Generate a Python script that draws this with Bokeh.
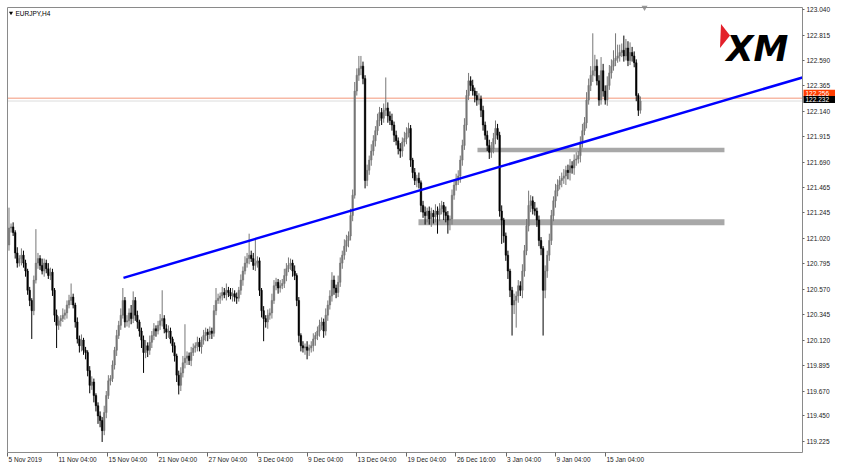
from bokeh.plotting import figure
from bokeh.models import (ColumnDataSource, FixedTicker, NumeralTickFormatter, Range1d,
                          Label, LinearAxis, CustomJSTickFormatter)
from bokeh.embed import file_html
from bokeh.resources import INLINE

# ---------------- data ----------------
symbol_title = "EURJPY,H4"
first_open = 120.96

closes = [
    121.11, 121.12, 121.07, 120.89, 120.80, 120.84, 120.87, 120.80, 120.73, 120.56,
    120.47, 120.38, 120.65, 120.80, 120.84, 120.78, 120.73, 120.80, 120.75, 120.69,
    120.72, 120.56, 120.34, 120.25, 120.29, 120.31, 120.34, 120.36, 120.43, 120.47,
    120.50, 120.43, 120.28, 120.13, 120.07, 120.12, 120.03, 120.01, 119.85, 119.72,
    119.75, 119.63, 119.54, 119.45, 119.41, 119.32, 119.48, 119.63, 119.76, 119.78,
    119.90, 120.03, 120.16, 120.25, 120.34, 120.47, 120.28, 120.29, 120.36, 120.31,
    120.47, 120.34, 120.28, 120.20, 120.12, 120.01, 120.07, 120.03, 120.10, 120.16,
    120.22, 120.20, 120.25, 120.29, 120.31, 120.22, 120.19, 120.20, 120.13, 120.07,
    119.98, 119.81, 119.72, 119.83, 119.92, 119.96, 119.98, 119.94, 120.01, 120.05,
    120.07, 120.10, 120.06, 120.12, 120.16, 120.19, 120.17, 120.20, 120.18, 120.38,
    120.47, 120.49, 120.51, 120.54, 120.52, 120.56, 120.54, 120.51, 120.53, 120.50,
    120.49, 120.56, 120.65, 120.73, 120.80, 120.84, 120.87, 120.84, 120.78, 120.80,
    120.82, 120.56, 120.38, 120.31, 120.28, 120.34, 120.36, 120.47, 120.60, 120.63,
    120.58, 120.60, 120.62, 120.69, 120.75, 120.78, 120.80, 120.73, 120.69, 120.47,
    120.16, 120.07, 120.05, 120.06, 120.03, 120.05, 120.07, 120.13, 120.16, 120.20,
    120.25, 120.28, 120.20, 120.34, 120.43, 120.51, 120.65, 120.58, 120.54, 120.63,
    120.80, 120.87, 120.95, 121.00, 121.04, 121.22, 121.40, 122.32, 122.46, 122.52,
    122.54, 122.43, 121.53, 121.62, 121.71, 121.79, 121.88, 121.97, 122.06, 122.13,
    122.08, 122.15, 122.17, 122.10, 122.06, 122.02, 121.93, 121.88, 121.81, 121.79,
    121.87, 121.90, 121.95, 121.99, 121.71, 121.60, 121.53, 121.55, 121.51, 121.31,
    121.25, 121.22, 121.26, 121.19, 121.24, 121.21, 121.26, 121.23, 121.28, 121.31,
    121.25, 121.22, 121.18, 121.19, 121.40, 121.49, 121.53, 121.57, 121.71, 121.84,
    122.02, 122.28, 122.41, 122.37, 122.32, 122.28, 122.24, 122.25, 122.15, 122.02,
    121.93, 121.84, 121.78, 121.81, 121.90, 121.99, 121.93, 121.26, 121.18, 121.04,
    120.87, 120.73, 120.56, 120.43, 120.47, 120.51, 120.60, 120.56, 120.73, 120.91,
    121.13, 121.31, 121.35, 121.28, 121.26, 121.18, 121.00, 120.93, 120.56, 120.73,
    120.87, 121.00, 121.22, 121.35, 121.44, 121.49, 121.53, 121.55, 121.57, 121.62,
    121.60, 121.66, 121.64, 121.71, 121.72, 121.75, 121.87, 121.97, 122.04, 122.24,
    122.37, 122.46, 122.50, 122.54, 122.41, 122.24, 122.50, 122.32, 122.24, 122.37,
    122.48, 122.54, 122.59, 122.61, 122.63, 122.66, 122.68, 122.63, 122.70, 122.59,
    122.66, 122.63, 122.57, 122.28, 122.15, 122.232,
]

wick_up = [
    0.18, 0.03, 0.04, 0.02, 0.05, 0.03, 0.06, 0.04, 0.03, 0.02,
    0.03, 0.02, 0.04, 0.30, 0.05, 0.03, 0.06, 0.04, 0.03, 0.05,
    0.04, 0.03, 0.02, 0.05, 0.04, 0.03, 0.06, 0.03, 0.04, 0.05,
    0.12, 0.03, 0.02, 0.04, 0.03, 0.05, 0.02, 0.03, 0.02, 0.04,
    0.05, 0.03, 0.02, 0.03, 0.04, 0.03, 0.06, 0.04, 0.05, 0.03,
    0.04, 0.03, 0.05, 0.04, 0.06, 0.11, 0.03, 0.05, 0.04, 0.07,
    0.08, 0.03, 0.04, 0.02, 0.03, 0.04, 0.05, 0.03, 0.06, 0.04,
    0.05, 0.03, 0.04, 0.06, 0.25, 0.03, 0.04, 0.05, 0.03, 0.02,
    0.03, 0.02, 0.04, 0.05, 0.06, 0.30, 0.04, 0.03, 0.05, 0.04,
    0.03, 0.05, 0.04, 0.03, 0.05, 0.04, 0.03, 0.04, 0.03, 0.05,
    0.11, 0.04, 0.03, 0.05, 0.04, 0.06, 0.03, 0.04, 0.05, 0.03,
    0.04, 0.03, 0.05, 0.04, 0.06, 0.05, 0.19, 0.04, 0.05, 0.22,
    0.04, 0.03, 0.02, 0.04, 0.03, 0.05, 0.04, 0.06, 0.05, 0.04,
    0.03, 0.05, 0.04, 0.06, 0.05, 0.07, 0.04, 0.03, 0.05, 0.02,
    0.03, 0.02, 0.04, 0.03, 0.05, 0.03, 0.04, 0.05, 0.03, 0.04,
    0.05, 0.04, 0.03, 0.06, 0.04, 0.05, 0.07, 0.04, 0.03, 0.06,
    0.05, 0.04, 0.06, 0.05, 0.04, 0.06, 0.05, 0.08, 0.06, 0.11,
    0.09, 0.04, 0.03, 0.05, 0.04, 0.06, 0.05, 0.04, 0.06, 0.05,
    0.04, 0.06, 0.27, 0.05, 0.04, 0.06, 0.03, 0.04, 0.03, 0.05,
    0.04, 0.06, 0.05, 0.05, 0.03, 0.02, 0.04, 0.03, 0.05, 0.02,
    0.04, 0.05, 0.03, 0.04, 0.05, 0.03, 0.06, 0.04, 0.05, 0.04,
    0.03, 0.05, 0.04, 0.03, 0.05, 0.04, 0.06, 0.05, 0.04, 0.05,
    0.06, 0.05, 0.07, 0.04, 0.05, 0.03, 0.04, 0.05, 0.03, 0.04,
    0.03, 0.04, 0.05, 0.06, 0.05, 0.07, 0.04, 0.03, 0.05, 0.02,
    0.03, 0.04, 0.02, 0.03, 0.06, 0.04, 0.05, 0.04, 0.06, 0.05,
    0.06, 0.13, 0.05, 0.04, 0.06, 0.03, 0.04, 0.03, 0.02, 0.05,
    0.04, 0.06, 0.05, 0.04, 0.06, 0.05, 0.04, 0.05, 0.06, 0.04,
    0.05, 0.06, 0.04, 0.05, 0.06, 0.04, 0.05, 0.06, 0.05, 0.07,
    0.06, 0.08, 0.33, 0.10, 0.06, 0.05, 0.12, 0.06, 0.05, 0.08,
    0.07, 0.06, 0.09, 0.22, 0.10, 0.07, 0.06, 0.13, 0.08, 0.06,
    0.09, 0.05, 0.04, 0.03, 0.02, 0.04,
]

wick_dn = [
    0.05, 0.04, 0.03, 0.05, 0.04, 0.03, 0.06, 0.04, 0.05, 0.04,
    0.05, 0.25, 0.04, 0.03, 0.05, 0.04, 0.03, 0.05, 0.04, 0.03,
    0.04, 0.05, 0.06, 0.20, 0.04, 0.05, 0.03, 0.04, 0.05, 0.03,
    0.04, 0.03, 0.05, 0.04, 0.06, 0.05, 0.04, 0.06, 0.05, 0.07,
    0.04, 0.06, 0.05, 0.07, 0.06, 0.10, 0.04, 0.05, 0.03, 0.04,
    0.03, 0.04, 0.05, 0.03, 0.04, 0.03, 0.05, 0.04, 0.06, 0.05,
    0.04, 0.05, 0.06, 0.05, 0.07, 0.18, 0.05, 0.06, 0.04, 0.05,
    0.04, 0.05, 0.03, 0.04, 0.05, 0.04, 0.06, 0.05, 0.04, 0.06,
    0.05, 0.06, 0.08, 0.05, 0.04, 0.05, 0.06, 0.04, 0.05, 0.03,
    0.04, 0.05, 0.04, 0.06, 0.04, 0.05, 0.06, 0.04, 0.05, 0.03,
    0.04, 0.03, 0.05, 0.04, 0.03, 0.05, 0.04, 0.03, 0.05, 0.04,
    0.05, 0.03, 0.04, 0.05, 0.03, 0.04, 0.05, 0.03, 0.04, 0.05,
    0.04, 0.05, 0.06, 0.20, 0.05, 0.06, 0.04, 0.05, 0.03, 0.04,
    0.05, 0.04, 0.03, 0.04, 0.05, 0.03, 0.04, 0.05, 0.04, 0.05,
    0.06, 0.05, 0.04, 0.06, 0.08, 0.05, 0.04, 0.05, 0.06, 0.04,
    0.05, 0.04, 0.06, 0.04, 0.05, 0.04, 0.05, 0.06, 0.05, 0.04,
    0.04, 0.05, 0.04, 0.05, 0.06, 0.04, 0.05, 0.03, 0.04, 0.05,
    0.06, 0.05, 0.07, 0.05, 0.04, 0.05, 0.04, 0.05, 0.04, 0.05,
    0.06, 0.04, 0.05, 0.06, 0.04, 0.05, 0.06, 0.04, 0.05, 0.06,
    0.05, 0.04, 0.05, 0.04, 0.06, 0.05, 0.04, 0.06, 0.05, 0.06,
    0.05, 0.08, 0.06, 0.05, 0.07, 0.06, 0.05, 0.17, 0.06, 0.05,
    0.07, 0.06, 0.12, 0.09, 0.05, 0.04, 0.05, 0.04, 0.06, 0.05,
    0.04, 0.05, 0.04, 0.05, 0.04, 0.06, 0.05, 0.04, 0.06, 0.05,
    0.04, 0.05, 0.06, 0.05, 0.04, 0.05, 0.04, 0.05, 0.21, 0.06,
    0.05, 0.07, 0.06, 0.27, 0.08, 0.24, 0.06, 0.05, 0.07, 0.05,
    0.04, 0.05, 0.06, 0.05, 0.04, 0.06, 0.05, 0.06, 0.40, 0.07,
    0.06, 0.05, 0.04, 0.05, 0.06, 0.05, 0.04, 0.06, 0.05, 0.08,
    0.06, 0.07, 0.05, 0.06, 0.05, 0.04, 0.06, 0.05, 0.04, 0.05,
    0.04, 0.05, 0.06, 0.05, 0.04, 0.05, 0.04, 0.05, 0.04, 0.05,
    0.04, 0.05, 0.04, 0.05, 0.04, 0.05, 0.04, 0.05, 0.04, 0.05,
    0.04, 0.05, 0.04, 0.05, 0.05, 0.03,
]

price_ticks = [123.040, 122.815, 122.590, 122.365, 122.140, 121.915, 121.690, 121.465,
               121.245, 121.020, 120.795, 120.570, 120.345, 120.120, 119.895, 119.670,
               119.450, 119.225]

date_labels = ["5 Nov 2019", "11 Nov 04:00", "15 Nov 04:00", "21 Nov 04:00", "27 Nov 04:00",
               "3 Dec 04:00", "9 Dec 04:00", "13 Dec 04:00", "19 Dec 04:00", "26 Dec 16:00",
               "3 Jan 04:00", "9 Jan 04:00", "15 Jan 04:00"]
date_label_bars = [-0.7, 23.4, 47.6, 71.7, 95.9, 119.8, 144.0, 167.9, 192.0, 215.9,
                   240.1, 264.0, 288.1]

bid_price = 122.232
ask_price = 122.256

trend_bars = [55.3, 383.3]
trend_prices = [120.67, 122.44]

zone_left = [226.3, 197.8]
zone_right = [345.6, 345.6]
zone_bottom = [121.779, 121.135]
zone_top = [121.818, 121.188]

# ---------------- derived candle geometry ----------------
n = min(len(closes), len(wick_up), len(wick_dn))
closes = closes[:n]
opens = [first_open] + closes[:-1]
highs = [max(o, c) + w for o, c, w in zip(opens, closes, wick_up[:n])]
lows = [min(o, c) - w for o, c, w in zip(opens, closes, wick_dn[:n])]
bars = list(range(n))

UP = "#777777"
DOWN = "#000000"
src = ColumnDataSource(dict(
    x=bars, high=highs, low=lows,
    top=[max(o, c) for o, c in zip(opens, closes)],
    bottom=[min(o, c) for o, c in zip(opens, closes)],
    color=[UP if c >= o else DOWN for o, c in zip(opens, closes)],
))

# price area (data units) and the canvas around it (reference pixels)
X0, X1 = -0.72, 383.3          # left edge / price-axis position (bars)
Y0, Y1 = 119.127, 123.058      # bottom / top of the price area
W, H = 839, 463
PX_L, PX_R, PX_T, PX_B = 7, 802, 7, 452
bx = (X1 - X0) / (PX_R - PX_L)
by = (Y1 - Y0) / (PX_B - PX_T)
x_range = Range1d(X0 - PX_L * bx, X1 + (W - PX_R) * bx)
y_range = Range1d(Y0 - (H - PX_B) * by, Y1 + PX_T * by)


def rx(px):
    return X0 + (px - PX_L) * bx


def ry(py):
    return Y1 - (py - PX_T) * by


p = figure(width=W, height=H, x_range=x_range, y_range=y_range,
           output_backend="svg", toolbar_location=None,
           x_axis_location=None, y_axis_location=None,
           min_border_left=0, min_border_top=0, min_border_right=0, min_border_bottom=0)
p.xgrid.visible = False
p.ygrid.visible = False
p.outline_line_color = None
p.background_fill_color = "white"
p.border_fill_color = "white"

FONT = "Liberation Sans"
TXT = "#222222"
FRAME = "#8a8a8a"
blank = CustomJSTickFormatter(code="return ''")

# right price axis at the edge of the price area
ya = LinearAxis(fixed_location=X1, bounds=(Y0, Y1),
                ticker=FixedTicker(ticks=price_ticks),
                formatter=NumeralTickFormatter(format="0.000"))
ya.major_label_text_font = FONT
ya.major_label_text_font_size = "6.5px"
ya.major_label_text_color = TXT
ya.major_tick_out = 2
ya.major_tick_in = 0
ya.minor_tick_out = 0
ya.minor_tick_in = 0
ya.major_label_standoff = 2
ya.axis_line_color = FRAME
ya.major_tick_line_color = "#666666"
p.add_layout(ya, "right")

# bottom time axis (ticks; labels are left-aligned as in MT4)
xa = LinearAxis(fixed_location=Y0, bounds=(X0, X1),
                ticker=FixedTicker(ticks=date_label_bars), formatter=blank)
xa.major_tick_out = 4
xa.major_tick_in = 0
xa.minor_tick_out = 0
xa.minor_tick_in = 0
xa.major_label_standoff = 0
xa.major_label_text_font_size = "1px"
xa.axis_line_color = FRAME
xa.major_tick_line_color = "#666666"
p.add_layout(xa, "below")

# left and top frame borders
la = LinearAxis(fixed_location=X0, bounds=(Y0, Y1), ticker=FixedTicker(ticks=[]), formatter=blank)
la.axis_line_color = FRAME
la.major_label_text_font_size = "1px"
p.add_layout(la, "left")
ta = LinearAxis(fixed_location=Y1, bounds=(X0, X1), ticker=FixedTicker(ticks=[]), formatter=blank)
ta.axis_line_color = FRAME
ta.major_label_text_font_size = "1px"
p.add_layout(ta, "above")

for b, lbl in zip(date_label_bars, date_labels):
    p.add_layout(Label(x=b, y=Y0, x_offset=1, y_offset=-3, text=lbl,
                       text_align="left", text_baseline="top",
                       text_font=FONT, text_font_size="6.5px", text_color=TXT))

# support zones
p.quad(left=zone_left, right=zone_right, bottom=zone_bottom, top=zone_top,
       fill_color="#a8a8a8", line_color=None)

# bid / ask lines across the price area
p.line([X0, X1], [ask_price, ask_price], line_color="#f7b9a6", line_width=1.5)
p.line([X0, X1], [bid_price, bid_price], line_color="#dcdcdc", line_width=1)

# candles
p.segment(x0="x", y0="low", x1="x", y1="high", line_color="color", line_width=1, source=src)
p.vbar(x="x", width=0.75, top="top", bottom="bottom", fill_color="color",
       line_color="color", line_width=0.5, source=src)

# trend line
p.line(trend_bars, trend_prices, line_color="#0000ff", line_width=2.5)

# chart-shift marker at the top
p.scatter(x=[n + 1.0], y=[Y1], marker="inverted_triangle", size=6,
          fill_color="#9a9a9a", line_color=None)

# title
p.scatter(x=[rx(10.5)], y=[ry(12.5)], marker="inverted_triangle", size=4,
          fill_color="#000000", line_color=None)
p.add_layout(Label(x=rx(15), y=ry(12.5), text=symbol_title, text_align="left",
                   text_baseline="middle", text_font=FONT, text_font_size="6.5px",
                   text_color="#000000"))

# XM logo
p.patch(x=[rx(720.5), rx(729.5), rx(719.5)], y=[ry(23.5), ry(35), ry(47.5)],
        fill_color="#e3202a", line_color=None)
p.add_layout(Label(x=rx(726), y=ry(48), text="XM", text_align="left",
                   text_baseline="alphabetic", text_font="DejaVu Sans", text_font_size="35px",
                   text_font_style="bold italic", text_color="#000000"))

# price tags on the axis
try:
    tag_pad = dict(left=2, right=6, top=1, bottom=1)
    Label(text="x", padding=tag_pad)
except Exception:
    tag_pad = 2

p.add_layout(Label(x=X1, y=ask_price, x_offset=1, y_offset=5, text="122.256",
                   text_align="left", text_baseline="middle", text_font=FONT,
                   text_font_size="6.5px", text_color="#ffffff",
                   background_fill_color="#ff3d00", padding=tag_pad))
p.add_layout(Label(x=X1, y=bid_price, x_offset=1, y_offset=1.5, text="122.232",
                   text_align="left", text_baseline="middle", text_font=FONT,
                   text_font_size="6.5px", text_color="#ffffff",
                   background_fill_color="#000000", padding=tag_pad))

open("out.html", "w").write(file_html(p, INLINE))
